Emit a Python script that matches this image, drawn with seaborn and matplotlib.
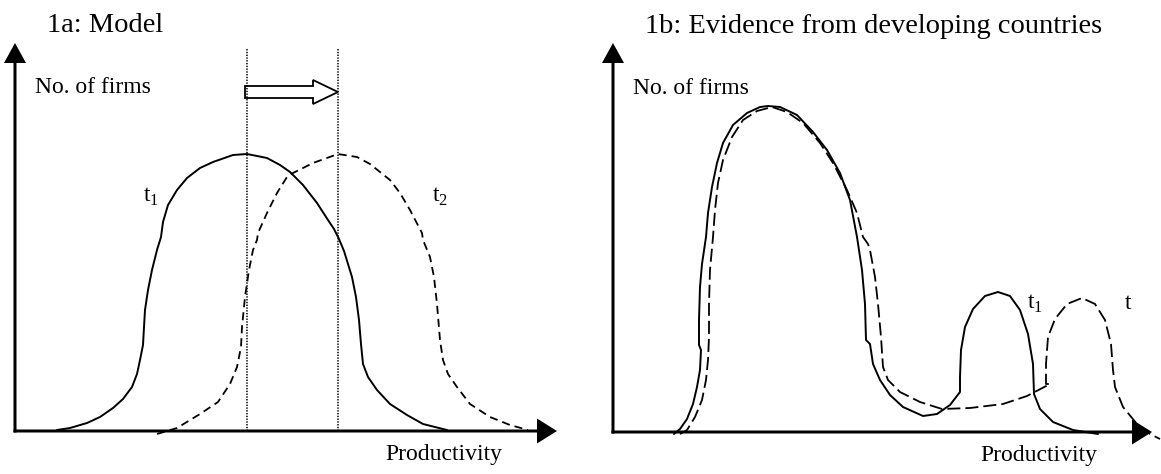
import matplotlib
matplotlib.use("Agg")
import matplotlib.pyplot as plt
import seaborn as sns

# --- data: curves (productivity, no. of firms), pixel-like units ---
# 1a: Model
model_t1_prod = [42, 55, 72, 85, 98, 108, 117, 122, 125, 128, 129, 130, 133, 137, 142, 146,
                 148, 153, 162, 172, 185, 198, 218, 232, 252, 265, 275, 288, 302, 313,
                 319, 324, 329, 333, 337, 341, 344, 346, 348, 353, 362, 375, 392, 408, 432]
model_t1_firms = [1, 3, 8, 14, 23, 32, 44, 57, 71, 86, 104, 121, 141, 161, 181, 194,
                  209, 226, 241, 253, 263, 269, 276, 277, 273, 266, 259, 246, 228, 211,
                  202, 192, 180, 167, 154, 134, 111, 87, 67, 54, 41, 27, 16, 7, 1]
model_t2_prod = [142, 162, 185, 203, 215, 222, 226, 227, 230, 234, 238, 242, 243, 252, 262,
                 272, 278, 298, 323, 342, 355, 375, 385, 395, 407, 408, 415, 419, 422,
                 425, 428, 433, 442, 455, 475, 495, 513]
model_t2_firms = [-3, 3, 17, 29, 47, 64, 84, 104, 134, 161, 181, 191, 198, 218, 238,
                  254, 258, 268, 277, 274, 267, 251, 238, 221, 198, 191, 174, 154, 127,
                  91, 71, 57, 44, 27, 14, 6, 1]

# 1b: Evidence from developing countries
dev_t1_prod = [61, 67, 74, 80, 84, 87, 88, 86, 86, 87, 89, 93, 95, 99, 104, 110, 120, 134,
               147, 155, 167, 184, 200, 214, 227, 237, 244, 249, 252, 253, 257, 260, 267,
               277, 290, 310, 324, 337, 347, 347, 348, 352, 360, 372, 385, 397, 407, 415,
               420, 421, 427, 440, 460, 485]
dev_t1_firms = [-2, 3, 13, 28, 45, 62, 82, 87, 112, 145, 168, 195, 219, 245, 269, 289, 307, 319,
                325, 326, 325, 317, 300, 282, 259, 232, 195, 162, 128, 92, 88, 68, 52,
                37, 25, 16, 18, 27, 40, 55, 82, 105, 123, 136, 140, 136, 122, 98,
                68, 38, 23, 10, 2, -2]
dev_t2_prod = [67, 74, 82, 89, 93, 95, 96, 96, 97, 100, 102, 105, 110, 119, 130, 144, 159,
               174, 190, 207, 220, 234, 244, 250, 255, 257, 262, 265, 268, 270, 275, 287,
               307, 329, 357, 390, 414, 437, 433, 433, 435, 442, 454, 469, 482, 492, 498,
               500, 502, 510, 524, 537, 547]
dev_t2_firms = [-2, 2, 15, 32, 52, 72, 95, 128, 162, 195, 222, 249, 272, 295, 312, 321, 325,
                320, 309, 289, 269, 242, 219, 195, 188, 182, 155, 128, 95, 65, 52, 40,
                30, 23, 24, 28, 36, 48, 48, 68, 95, 113, 128, 134, 128, 112, 88,
                62, 45, 25, 8, -2, -7]

titles = ["1a: Model", "1b: Evidence from developing countries"]
y_label = "No. of firms"
x_label = "Productivity"

# --- style ---
sns.set_style("white")
plt.rcParams["font.family"] = ["Liberation Serif", "DejaVu Serif"]
plt.rcParams["text.color"] = "black"
plt.rcParams["mathtext.fontset"] = "custom"
plt.rcParams["mathtext.rm"] = "Liberation Serif"
plt.rcParams["lines.scale_dashes"] = False

fig = plt.figure(figsize=(11.61, 4.74), dpi=100)
ax1 = fig.add_axes([0, 0, 580 / 1161, 1])
ax2 = fig.add_axes([580 / 1161, 0, 581 / 1161, 1])
ax1.set_xlim(-15, 565)
ax1.set_ylim(-43, 431)
ax2.set_xlim(-33, 548)
ax2.set_ylim(-42, 432)


def draw_axes(ax, x_len, y_len, title):
    # axis arrows, labels and title
    ax.arrow(-1.5, 0, x_len + 1.5, 0, width=3, head_width=25, head_length=20,
             length_includes_head=True, color="black", lw=0)
    ax.arrow(0, -1.5, 0, y_len + 1.5, width=3, head_width=22, head_length=20,
             length_includes_head=True, color="black", lw=0)
    ax.text(20, 338, y_label, fontsize=17, va="baseline", ha="left")
    ax.text(x_len - 172, -29, x_label, fontsize=17, va="baseline", ha="left")
    ax.text(32, 399, title, fontsize=20.5, va="baseline", ha="left")
    ax.axis("off")


# --- panel 1a ---
draw_axes(ax1, 542, 388, titles[0])
sns.lineplot(x=model_t1_prod, y=model_t1_firms, sort=False, estimator=None, ax=ax1,
             color="black", lw=1.4)
sns.lineplot(x=model_t2_prod, y=model_t2_firms, sort=False, estimator=None, ax=ax1,
             color="black", lw=1.3, linestyle=(0, (5.8, 3.6)))

# dotted lines through both peaks and the shift arrow between them
peak1 = model_t1_prod[model_t1_firms.index(max(model_t1_firms))]
peak2 = model_t2_prod[model_t2_firms.index(max(model_t2_firms))]
for p in (peak1, peak2):
    ax1.plot([p, p], [0, 383], color="black", lw=1.1, linestyle=(0, (1.0, 1.0)))
ax1.arrow(peak1 - 2, 339, peak2 - peak1 + 2, 0, width=12, head_width=24, head_length=25,
          length_includes_head=True, fc="white", ec="black", lw=1.3)
ax1.text(128, 229, r"$\mathrm{t}_1$", fontsize=17, va="baseline")
ax1.text(417, 229, r"$\mathrm{t}_2$", fontsize=17, va="baseline")

# --- panel 1b ---
draw_axes(ax2, 539, 389, titles[1])
sns.lineplot(x=dev_t1_prod, y=dev_t1_firms, sort=False, estimator=None, ax=ax2,
             color="black", lw=1.4)
sns.lineplot(x=dev_t2_prod, y=dev_t2_firms, sort=False, estimator=None, ax=ax2,
             color="black", lw=1.3, linestyle=(0, (9.4, 3.6)))
ax2.text(414, 123, r"$\mathrm{t}_1$", fontsize=17, va="baseline")
ax2.text(512, 123, "t", fontsize=17, va="baseline")

for ax in (ax1, ax2):
    ax.axis("off")

fig.savefig("out.png", dpi=100)
